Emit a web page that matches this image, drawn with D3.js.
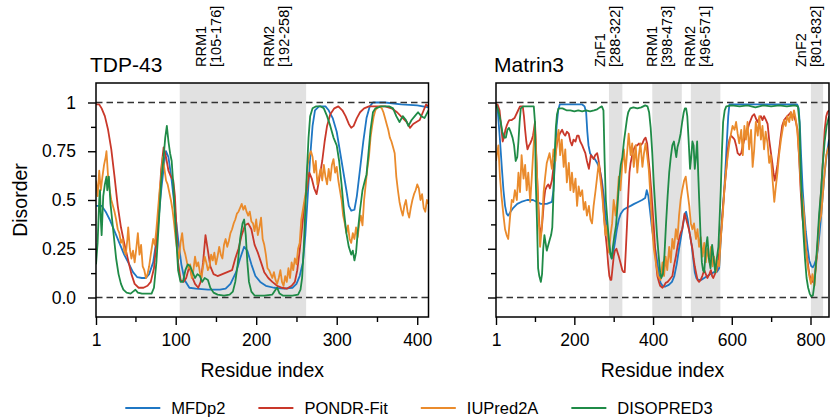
<!DOCTYPE html>
<html>
<head>
<meta charset="utf-8">
<script src="https://d3js.org/d3.v7.min.js"></script>
<style>
  body { margin: 0; background: #fff; }
  text { font-family: "Liberation Sans", Arial, sans-serif; fill: #000; }
</style>
</head>
<body>
<svg id="chart" width="832" height="419"></svg>
<script>
// ---- data: [residue, disorder score] ----
var tdpMFDp2 = [[1,0.47],[8,0.47],[13,0.44],[18,0.40],[24,0.34],[30,0.28],[36,0.22],[41,0.18],[47,0.13],[52,0.105],[58,0.10],[63,0.10],[67,0.12],[72,0.18],[77,0.32],[82,0.55],[86,0.70],[88,0.75],[91,0.72],[95,0.60],[99,0.45],[103,0.30],[107,0.17],[111,0.09],[117,0.05],[125,0.045],[140,0.04],[155,0.04],[162,0.045],[168,0.07],[175,0.13],[180,0.20],[185,0.26],[189,0.24],[194,0.17],[199,0.11],[205,0.08],[212,0.06],[222,0.05],[235,0.045],[245,0.05],[250,0.07],[254,0.11],[258,0.18],[261,0.32],[264,0.52],[267,0.72],[270,0.88],[273,0.96],[278,0.98],[286,0.98],[290,0.96],[295,0.92],[300,0.85],[304,0.75],[308,0.65],[312,0.55],[315,0.47],[318,0.445],[322,0.45],[325,0.52],[329,0.66],[333,0.80],[337,0.92],[341,0.98],[345,1.0],[360,1.0],[380,0.99],[400,0.985],[414,0.975]];
var tdpPONDR = [[1,0.99],[5,0.99],[8,0.97],[12,0.93],[16,0.86],[20,0.76],[24,0.62],[28,0.47],[32,0.36],[36,0.28],[41,0.19],[45,0.12],[49,0.07],[54,0.05],[60,0.05],[65,0.06],[69,0.08],[73,0.15],[76,0.28],[79,0.45],[82,0.66],[85,0.77],[88,0.72],[91,0.65],[94,0.62],[97,0.60],[99,0.52],[101,0.35],[103,0.18],[106,0.09],[110,0.08],[113,0.10],[117,0.16],[120,0.11],[124,0.07],[128,0.05],[131,0.08],[134,0.18],[137,0.32],[140,0.24],[143,0.16],[147,0.12],[152,0.11],[158,0.12],[164,0.13],[170,0.14],[174,0.20],[178,0.25],[182,0.32],[186,0.37],[190,0.38],[194,0.35],[198,0.27],[202,0.23],[206,0.18],[210,0.13],[215,0.10],[220,0.08],[226,0.06],[232,0.05],[238,0.045],[244,0.06],[248,0.08],[251,0.14],[254,0.24],[257,0.36],[260,0.48],[263,0.56],[266,0.64],[269,0.61],[272,0.56],[275,0.53],[278,0.60],[282,0.70],[285,0.80],[288,0.88],[292,0.94],[297,0.97],[302,0.98],[307,0.96],[311,0.93],[315,0.89],[318,0.87],[321,0.88],[325,0.92],[329,0.95],[334,0.97],[340,0.98],[350,0.98],[360,0.98],[368,0.97],[375,0.95],[382,0.92],[387,0.90],[391,0.87],[395,0.89],[399,0.90],[403,0.91],[407,0.95],[411,0.99],[414,0.98]];
var tdpIUPred = [[1,0.60],[3,0.52],[5,0.65],[7,0.55],[9,0.62],[11,0.68],[13,0.72],[14,0.75],[16,0.62],[18,0.55],[20,0.50],[22,0.47],[24,0.44],[26,0.40],[28,0.35],[30,0.33],[32,0.28],[34,0.30],[36,0.24],[38,0.22],[40,0.30],[41,0.36],[43,0.25],[45,0.20],[47,0.24],[49,0.18],[51,0.25],[53,0.33],[55,0.22],[57,0.27],[59,0.16],[61,0.14],[63,0.10],[65,0.12],[67,0.16],[69,0.22],[72,0.30],[74,0.27],[76,0.35],[78,0.45],[80,0.55],[82,0.62],[84,0.72],[86,0.66],[88,0.60],[90,0.58],[92,0.54],[94,0.50],[96,0.45],[98,0.38],[100,0.30],[102,0.24],[104,0.20],[106,0.28],[108,0.33],[110,0.25],[112,0.22],[114,0.18],[116,0.15],[118,0.17],[120,0.10],[122,0.14],[124,0.21],[126,0.16],[128,0.18],[130,0.13],[132,0.10],[134,0.16],[136,0.21],[138,0.18],[140,0.14],[142,0.16],[144,0.22],[146,0.19],[148,0.23],[150,0.17],[152,0.21],[154,0.26],[156,0.22],[158,0.20],[160,0.27],[162,0.30],[164,0.26],[166,0.29],[168,0.33],[170,0.35],[172,0.38],[174,0.40],[176,0.43],[178,0.44],[180,0.46],[182,0.48],[184,0.45],[186,0.47],[188,0.44],[190,0.42],[192,0.44],[194,0.39],[196,0.38],[198,0.34],[200,0.40],[202,0.32],[204,0.36],[206,0.41],[208,0.30],[210,0.27],[212,0.22],[214,0.15],[216,0.14],[218,0.12],[220,0.10],[222,0.13],[224,0.09],[226,0.07],[228,0.10],[230,0.14],[232,0.08],[234,0.06],[236,0.11],[238,0.08],[240,0.15],[242,0.10],[244,0.18],[246,0.14],[248,0.20],[250,0.17],[252,0.25],[254,0.28],[256,0.40],[258,0.45],[260,0.50],[262,0.55],[264,0.68],[266,0.73],[268,0.75],[270,0.72],[272,0.64],[274,0.70],[276,0.58],[278,0.62],[280,0.66],[282,0.60],[284,0.68],[286,0.62],[288,0.58],[290,0.66],[292,0.60],[294,0.68],[296,0.71],[298,0.64],[300,0.67],[302,0.60],[304,0.55],[306,0.50],[308,0.42],[310,0.38],[312,0.33],[314,0.37],[316,0.30],[318,0.28],[320,0.33],[322,0.30],[324,0.36],[326,0.31],[328,0.38],[330,0.42],[332,0.37],[334,0.50],[336,0.58],[338,0.66],[340,0.72],[342,0.82],[344,0.88],[346,0.93],[348,0.96],[350,0.97],[353,0.98],[356,0.97],[358,0.95],[360,0.92],[362,0.89],[364,0.86],[366,0.82],[368,0.80],[370,0.77],[372,0.74],[374,0.62],[376,0.55],[378,0.49],[380,0.45],[382,0.42],[384,0.47],[386,0.50],[388,0.44],[390,0.41],[392,0.46],[394,0.50],[396,0.53],[398,0.55],[400,0.58],[402,0.56],[404,0.50],[406,0.53],[408,0.46],[410,0.44],[412,0.50],[414,0.48]];
var tdpDISOPRED = [[1,0.17],[3,0.28],[5,0.50],[6,0.55],[7,0.40],[8,0.32],[10,0.52],[12,0.58],[14,0.62],[15,0.55],[17,0.62],[19,0.48],[21,0.40],[23,0.32],[26,0.20],[29,0.12],[32,0.07],[35,0.04],[39,0.025],[44,0.02],[47,0.03],[50,0.04],[53,0.025],[58,0.02],[65,0.02],[70,0.02],[73,0.05],[76,0.18],[79,0.38],[82,0.60],[85,0.72],[87,0.82],[89,0.88],[91,0.80],[93,0.74],[95,0.70],[97,0.58],[99,0.42],[101,0.28],[103,0.14],[106,0.08],[109,0.08],[112,0.14],[115,0.17],[118,0.16],[121,0.13],[124,0.10],[127,0.12],[130,0.11],[133,0.08],[136,0.10],[140,0.09],[143,0.05],[147,0.025],[152,0.015],[160,0.01],[167,0.015],[171,0.03],[174,0.08],[177,0.17],[180,0.30],[183,0.38],[185,0.40],[187,0.32],[189,0.18],[191,0.08],[194,0.03],[198,0.01],[210,0.01],[220,0.015],[224,0.04],[226,0.05],[229,0.02],[233,0.01],[245,0.01],[252,0.015],[255,0.04],[257,0.10],[259,0.25],[261,0.45],[263,0.65],[265,0.82],[267,0.93],[270,0.97],[274,0.98],[280,0.98],[284,0.97],[288,0.93],[292,0.88],[296,0.82],[300,0.78],[303,0.70],[306,0.58],[309,0.44],[312,0.33],[315,0.26],[318,0.22],[320,0.24],[322,0.19],[324,0.23],[326,0.33],[329,0.45],[332,0.55],[335,0.60],[337,0.63],[339,0.72],[342,0.86],[345,0.95],[348,0.97],[355,0.98],[365,0.98],[370,0.97],[374,0.93],[378,0.90],[382,0.93],[386,0.91],[389,0.88],[393,0.91],[397,0.93],[401,0.95],[405,0.93],[409,0.92],[414,0.96]];

var matMFDp2 = [[1,0.99],[5,0.97],[11,0.81],[16,0.66],[20,0.55],[24,0.47],[28,0.43],[32,0.42],[38,0.44],[45,0.46],[55,0.48],[65,0.49],[80,0.50],[95,0.50],[105,0.49],[115,0.48],[130,0.48],[143,0.49],[147,0.55],[151,0.72],[155,0.88],[159,0.96],[163,0.99],[180,0.99],[200,0.99],[220,0.99],[226,0.98],[230,0.95],[233,0.85],[236,0.78],[240,0.74],[246,0.72],[252,0.71],[258,0.69],[264,0.66],[270,0.60],[275,0.52],[279,0.42],[284,0.34],[288,0.28],[292,0.22],[295,0.20],[299,0.23],[303,0.28],[308,0.35],[313,0.40],[318,0.43],[325,0.45],[333,0.46],[343,0.47],[352,0.48],[362,0.49],[372,0.50],[380,0.51],[384,0.55],[388,0.52],[392,0.45],[397,0.36],[402,0.29],[407,0.23],[411,0.18],[415,0.12],[419,0.075],[424,0.06],[430,0.055],[440,0.065],[448,0.08],[454,0.11],[460,0.17],[466,0.25],[471,0.31],[476,0.37],[481,0.43],[484,0.44],[488,0.40],[493,0.33],[498,0.27],[502,0.20],[506,0.13],[510,0.10],[515,0.09],[522,0.09],[530,0.10],[538,0.11],[546,0.12],[555,0.13],[562,0.13],[568,0.15],[572,0.30],[577,0.45],[581,0.56],[585,0.70],[588,0.82],[591,0.93],[594,0.99],[610,0.99],[650,0.99],[700,0.99],[740,0.99],[766,0.99],[770,0.97],[773,0.88],[776,0.73],[780,0.56],[784,0.44],[788,0.34],[793,0.25],[797,0.19],[802,0.16],[806,0.155],[810,0.17],[815,0.20],[819,0.25],[823,0.33],[827,0.42],[831,0.52],[836,0.64],[841,0.73],[847,0.81]];
var matPONDR = [[1,0.99],[5,0.99],[10,0.96],[15,0.86],[18,0.80],[21,0.82],[25,0.86],[28,0.88],[32,0.90],[35,0.91],[41,0.91],[48,0.92],[55,0.95],[62,0.98],[69,0.98],[72,0.93],[75,0.86],[78,0.80],[81,0.76],[85,0.78],[88,0.79],[92,0.81],[95,0.83],[98,0.87],[100,0.90],[103,0.75],[105,0.64],[108,0.50],[111,0.38],[113,0.34],[115,0.32],[118,0.37],[120,0.42],[123,0.50],[126,0.55],[130,0.57],[134,0.58],[138,0.56],[143,0.60],[146,0.65],[149,0.69],[152,0.74],[156,0.79],[160,0.82],[163,0.84],[166,0.85],[169,0.86],[173,0.84],[177,0.83],[181,0.85],[186,0.84],[190,0.80],[194,0.78],[198,0.81],[203,0.80],[207,0.83],[211,0.83],[215,0.80],[220,0.78],[224,0.76],[228,0.74],[232,0.70],[237,0.66],[240,0.70],[242,0.73],[246,0.72],[249,0.71],[253,0.73],[258,0.74],[261,0.71],[264,0.67],[268,0.61],[271,0.55],[274,0.46],[277,0.38],[280,0.31],[283,0.25],[286,0.17],[289,0.11],[292,0.09],[294,0.09],[297,0.15],[300,0.21],[303,0.24],[307,0.25],[310,0.23],[313,0.21],[317,0.18],[322,0.14],[325,0.13],[328,0.13],[331,0.25],[334,0.38],[337,0.52],[340,0.64],[343,0.69],[347,0.73],[351,0.76],[356,0.78],[360,0.78],[364,0.79],[368,0.78],[373,0.79],[377,0.81],[381,0.82],[385,0.79],[388,0.72],[392,0.64],[395,0.56],[398,0.47],[402,0.36],[405,0.25],[408,0.17],[411,0.11],[415,0.08],[418,0.06],[424,0.05],[428,0.06],[432,0.075],[437,0.08],[441,0.09],[445,0.10],[449,0.11],[453,0.16],[458,0.21],[462,0.26],[466,0.30],[470,0.33],[474,0.35],[477,0.39],[480,0.43],[483,0.41],[487,0.38],[491,0.35],[494,0.32],[497,0.28],[500,0.25],[503,0.20],[506,0.16],[510,0.12],[513,0.09],[517,0.08],[521,0.09],[525,0.11],[530,0.14],[534,0.12],[538,0.10],[543,0.12],[547,0.14],[550,0.11],[553,0.10],[557,0.12],[562,0.14],[566,0.20],[570,0.26],[573,0.34],[576,0.42],[580,0.52],[583,0.59],[587,0.68],[590,0.76],[594,0.81],[598,0.83],[603,0.82],[607,0.81],[611,0.78],[615,0.74],[620,0.73],[624,0.74],[628,0.78],[632,0.81],[636,0.84],[640,0.86],[644,0.89],[648,0.91],[652,0.93],[657,0.94],[661,0.92],[665,0.90],[670,0.92],[674,0.93],[678,0.91],[682,0.93],[687,0.91],[691,0.89],[695,0.81],[699,0.75],[703,0.69],[706,0.64],[709,0.60],[712,0.63],[716,0.68],[720,0.75],[724,0.82],[728,0.88],[733,0.91],[737,0.92],[741,0.93],[746,0.94],[750,0.95],[754,0.93],[758,0.93],[763,0.90],[767,0.86],[771,0.72],[775,0.55],[779,0.42],[784,0.33],[788,0.25],[793,0.18],[797,0.12],[801,0.09],[805,0.08],[810,0.10],[814,0.16],[819,0.30],[823,0.42],[827,0.55],[831,0.68],[836,0.86],[840,0.93],[843,0.95],[847,0.96]];
var matIUPred = [[1,0.70],[3,0.73],[7,0.78],[11,0.62],[15,0.52],[20,0.42],[24,0.35],[28,0.32],[32,0.30],[37,0.42],[41,0.50],[45,0.49],[49,0.55],[54,0.50],[58,0.64],[62,0.54],[66,0.73],[71,0.61],[75,0.68],[79,0.55],[83,0.64],[88,0.49],[92,0.62],[96,0.76],[100,0.88],[105,0.64],[109,0.42],[113,0.26],[117,0.35],[122,0.54],[126,0.62],[130,0.69],[137,0.74],[143,0.66],[147,0.76],[152,0.70],[156,0.81],[160,0.86],[164,0.73],[168,0.81],[173,0.67],[177,0.76],[181,0.59],[186,0.69],[190,0.55],[194,0.64],[198,0.54],[203,0.61],[207,0.47],[211,0.57],[215,0.52],[220,0.55],[224,0.45],[228,0.49],[232,0.42],[237,0.47],[241,0.40],[245,0.38],[249,0.47],[254,0.55],[258,0.62],[262,0.69],[266,0.61],[271,0.52],[275,0.42],[279,0.32],[283,0.37],[288,0.23],[292,0.32],[296,0.38],[300,0.50],[305,0.42],[309,0.50],[313,0.62],[317,0.55],[322,0.69],[326,0.76],[330,0.64],[334,0.74],[338,0.84],[343,0.73],[347,0.79],[351,0.67],[356,0.78],[360,0.64],[364,0.73],[368,0.79],[373,0.67],[377,0.74],[381,0.79],[385,0.73],[389,0.66],[394,0.50],[398,0.35],[402,0.25],[407,0.18],[413,0.11],[419,0.09],[424,0.18],[428,0.11],[432,0.21],[436,0.14],[441,0.26],[445,0.18],[449,0.30],[453,0.25],[458,0.35],[462,0.30],[466,0.42],[470,0.50],[474,0.55],[479,0.60],[483,0.62],[487,0.55],[492,0.47],[496,0.38],[500,0.35],[504,0.38],[509,0.30],[513,0.35],[517,0.26],[521,0.31],[526,0.21],[530,0.28],[534,0.18],[538,0.25],[543,0.18],[547,0.26],[551,0.16],[555,0.21],[560,0.13],[564,0.19],[568,0.16],[572,0.30],[577,0.42],[581,0.55],[585,0.64],[590,0.73],[594,0.79],[598,0.84],[602,0.88],[607,0.86],[611,0.90],[615,0.84],[619,0.79],[624,0.86],[628,0.73],[632,0.88],[636,0.81],[640,0.90],[644,0.76],[649,0.86],[653,0.67],[657,0.76],[661,0.90],[666,0.83],[670,0.93],[674,0.81],[678,0.88],[682,0.76],[686,0.85],[691,0.79],[695,0.69],[699,0.73],[703,0.62],[708,0.49],[712,0.57],[716,0.64],[720,0.73],[725,0.81],[729,0.86],[733,0.91],[737,0.88],[741,0.93],[746,0.90],[750,0.95],[754,0.91],[758,0.96],[763,0.91],[767,0.84],[771,0.73],[776,0.55],[780,0.50],[784,0.42],[788,0.26],[793,0.16],[797,0.11],[801,0.07],[805,0.12],[810,0.06],[814,0.18],[818,0.25],[822,0.38],[827,0.42],[831,0.52],[835,0.62],[840,0.73],[847,0.78]];
var matDISOPRED = [[1,0.99],[5,0.97],[9,0.94],[13,0.90],[17,0.85],[22,0.82],[26,0.82],[30,0.86],[34,0.87],[38,0.85],[43,0.82],[47,0.78],[51,0.70],[55,0.72],[58,0.80],[61,0.90],[64,0.97],[70,0.98],[80,0.98],[90,0.98],[97,0.98],[100,0.90],[102,0.60],[105,0.40],[108,0.15],[111,0.11],[115,0.08],[118,0.12],[121,0.25],[124,0.32],[127,0.28],[130,0.24],[134,0.27],[138,0.30],[141,0.32],[144,0.36],[147,0.53],[150,0.72],[153,0.87],[156,0.94],[160,0.97],[170,0.97],[180,0.96],[190,0.96],[200,0.955],[210,0.96],[220,0.955],[230,0.96],[240,0.955],[250,0.96],[258,0.965],[265,0.975],[270,0.98],[274,0.96],[277,0.70],[280,0.50],[283,0.42],[286,0.34],[289,0.27],[292,0.22],[295,0.20],[298,0.26],[302,0.32],[306,0.37],[310,0.48],[314,0.60],[318,0.68],[322,0.72],[326,0.80],[330,0.86],[334,0.92],[337,0.95],[342,0.97],[350,0.975],[360,0.97],[370,0.975],[380,0.985],[386,0.98],[390,0.95],[394,0.87],[398,0.74],[402,0.58],[406,0.45],[410,0.32],[414,0.22],[418,0.13],[421,0.10],[425,0.12],[429,0.22],[433,0.38],[437,0.52],[441,0.64],[445,0.72],[449,0.78],[453,0.80],[456,0.76],[459,0.72],[462,0.77],[466,0.80],[470,0.84],[474,0.90],[478,0.95],[481,0.97],[484,0.97],[487,0.93],[490,0.82],[494,0.66],[497,0.72],[500,0.80],[503,0.78],[506,0.66],[509,0.72],[512,0.80],[515,0.62],[518,0.46],[521,0.30],[524,0.18],[527,0.14],[530,0.13],[534,0.25],[538,0.31],[542,0.20],[546,0.15],[550,0.27],[554,0.20],[558,0.13],[562,0.20],[566,0.26],[569,0.40],[572,0.55],[575,0.75],[578,0.90],[582,0.96],[586,0.98],[600,0.985],[620,0.98],[640,0.985],[660,0.975],[680,0.985],[700,0.98],[720,0.985],[740,0.98],[760,0.985],[768,0.98],[772,0.90],[775,0.65],[778,0.50],[782,0.33],[786,0.20],[790,0.10],[794,0.05],[798,0.02],[802,0.005],[806,0.01],[810,0.07],[814,0.18],[818,0.30],[822,0.43],[827,0.55],[831,0.68],[836,0.80],[841,0.88],[847,0.93]];

var methods = ["MFDp2", "PONDR-Fit", "IUPred2A", "DISOPRED3"];
var colors = ["#1f77c4", "#c9382a", "#ea8b2c", "#1f8b47"];

// shaded spans and domain annotations
var tdpShade = [[105, 262]];
var tdpDomains = [["RRM1", "[105-176]", 105, 176], ["RRM2", "[192-258]", 192, 258]];
var matShade = [[288, 322], [398, 473], [496, 571], [801, 832]];
var matDomains = [["ZnF1", "[288-322]", 288, 322], ["RRM1", "[398-473]", 398, 473], ["RRM2", "[496-571]", 496, 571], ["ZnF2", "[801-832]", 801, 832]];

var tdpTicks = [1, 100, 200, 300, 400], tdpMinor = [50, 150, 250, 350];
var matTicks = [1, 200, 400, 600, 800], matMinor = [100, 300, 500, 700];
var yTicks = [0, 0.25, 0.5, 0.75, 1], yTickLabels = ["0.0", "0.25", "0.5", "0.75", "1"];
var yMinor = [0.125, 0.375, 0.625, 0.875];

// ---- layout ----
var svg = d3.select("#chart");
var plotTop = 83, plotBottom = 317;
var y = d3.scaleLinear().domain([-0.1, 1.1]).range([plotBottom, plotTop]);

var panels = [
  { title: "TDP-43", titleX: 90, len: 414, x0: 96, x1: 428.5, labelShift: -2,
    series: [tdpMFDp2, tdpPONDR, tdpIUPred, tdpDISOPRED],
    shade: tdpShade, domains: tdpDomains, ticks: tdpTicks, minor: tdpMinor, yLabels: true },
  { title: "Matrin3", titleX: 494, len: 847, x0: 496, x1: 829, labelShift: -10.5,
    series: [matMFDp2, matPONDR, matIUPred, matDISOPRED],
    shade: matShade, domains: matDomains, ticks: matTicks, minor: matMinor, yLabels: false }
];

panels.forEach(function(p, i) {
  var x = d3.scaleLinear().domain([1, p.len]).range([p.x0, p.x1]);
  var g = svg.append("g");

  g.append("clipPath").attr("id", "clip" + i)
    .append("rect").attr("x", p.x0).attr("y", plotTop).attr("width", p.x1 - p.x0).attr("height", plotBottom - plotTop);

  // domain shading
  g.selectAll("rect.shade").data(p.shade).enter().append("rect")
    .attr("class", "shade")
    .attr("x", function(d) { return x(d[0]); })
    .attr("width", function(d) { return x(d[1]) - x(d[0]); })
    .attr("y", plotTop).attr("height", plotBottom - plotTop)
    .style("fill", "#e1e1e1");

  // disorder lines
  var line = d3.line().x(function(d) { return x(d[0]); }).y(function(d) { return y(d[1]); });
  g.append("g").attr("clip-path", "url(#clip" + i + ")")
    .selectAll("path").data(p.series).enter().append("path")
    .attr("d", line)
    .style("fill", "none")
    .style("stroke", function(d, k) { return colors[k]; })
    .style("stroke-width", 1.8)
    .style("stroke-linejoin", "round");

  // reference lines at 0 and 1
  g.selectAll("line.ref").data([0, 1]).enter().append("line")
    .attr("x1", p.x0).attr("x2", p.x1)
    .attr("y1", function(d) { return y(d); }).attr("y2", function(d) { return y(d); })
    .style("stroke", "#333").style("stroke-width", 1.6).style("stroke-dasharray", "6.5,4");

  // frame
  g.append("rect").attr("x", p.x0).attr("y", plotTop).attr("width", p.x1 - p.x0).attr("height", plotBottom - plotTop)
    .style("fill", "none").style("stroke", "#000").style("stroke-width", 1.5);

  // x axis
  g.append("g").attr("transform", "translate(0," + plotBottom + ")")
    .call(d3.axisBottom(x).tickValues(p.ticks).tickSize(8).tickPadding(9).tickFormat(d3.format("d")));
  g.append("g").attr("transform", "translate(0," + plotBottom + ")")
    .call(d3.axisBottom(x).tickValues(p.minor).tickSize(5).tickFormat(""));

  // y axis
  g.append("g").attr("transform", "translate(" + p.x0 + ",0)")
    .call(d3.axisLeft(y).tickValues(yTicks).tickSize(8).tickPadding(12)
      .tickFormat(function(d, k) { return p.yLabels ? yTickLabels[k] : ""; }));
  g.append("g").attr("transform", "translate(" + p.x0 + ",0)")
    .call(d3.axisLeft(y).tickValues(yMinor).tickSize(5).tickFormat(""));

  g.selectAll(".domain").remove();
  g.selectAll(".tick line").style("stroke", "#000").style("stroke-width", 1.4);
  g.selectAll(".tick text").style("font-size", "17.5px").style("font-family", "'Liberation Sans', Arial, sans-serif");

  // titles and axis labels
  g.append("text").attr("x", p.titleX).attr("y", 72).text(p.title).style("font-size", "21px");
  g.append("text").attr("x", (p.x0 + p.x1) / 2).attr("y", 377).attr("text-anchor", "middle")
    .text("Residue index").style("font-size", "19.5px");

  // domain labels, rotated
  g.selectAll("text.dom").data(p.domains).enter().append("text")
    .attr("class", "dom")
    .attr("transform", function(d) { return "translate(" + (x((d[2] + d[3]) / 2) + p.labelShift) + ",67) rotate(-90)"; })
    .style("font-size", "14.5px")
    .each(function(d) {
      var t = d3.select(this);
      t.append("tspan").attr("x", 0).attr("y", 0).text(d[0]);
      t.append("tspan").attr("x", 0).attr("y", 15).text(d[1]);
    });
});

svg.append("text").attr("transform", "translate(27,200) rotate(-90)")
  .attr("text-anchor", "middle").text("Disorder").style("font-size", "19.5px");

// legend
var leg = svg.append("g");
var lx = 0;
methods.forEach(function(m, k) {
  var item = leg.append("g").attr("transform", "translate(" + lx + ",0)");
  item.append("line").attr("x1", 0).attr("x2", 35).attr("y1", 0).attr("y2", 0)
    .style("stroke", colors[k]).style("stroke-width", 2);
  var t = item.append("text").attr("x", 46).attr("y", 6).text(m).style("font-size", "16.5px");
  lx += 46 + t.node().getComputedTextLength() + 33;
});
lx -= 33;
leg.attr("transform", "translate(" + (419 - lx / 2) + ",408)");
</script>
</body>
</html>
